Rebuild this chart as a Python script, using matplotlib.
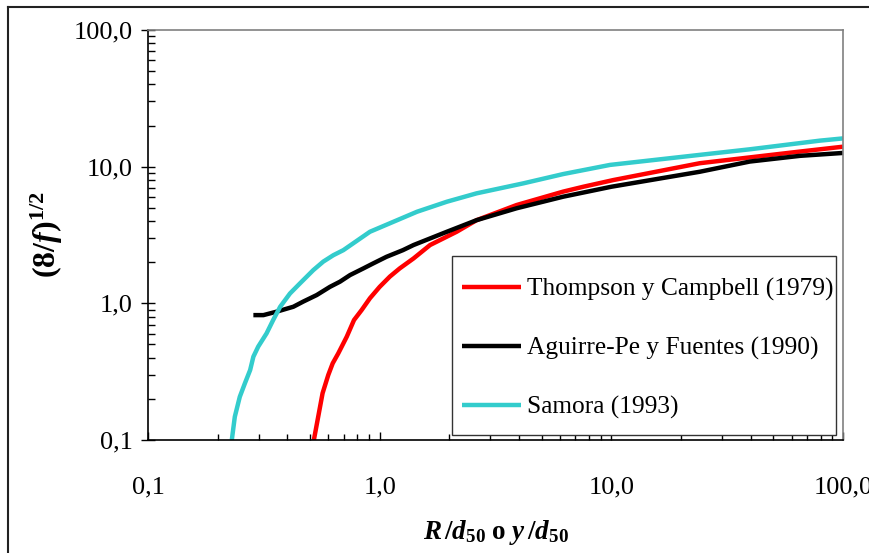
import matplotlib
matplotlib.use("Agg")
import matplotlib.pyplot as plt
from matplotlib.ticker import FixedLocator, FixedFormatter, LogLocator, NullFormatter
from matplotlib.lines import Line2D
from matplotlib.patches import Rectangle

plt.rcParams['font.family'] = ['Liberation Serif', 'DejaVu Serif']
plt.rcParams['mathtext.fontset'] = 'custom'
plt.rcParams['mathtext.rm'] = 'Liberation Serif'
plt.rcParams['mathtext.bf'] = 'Liberation Serif:bold'
plt.rcParams['mathtext.it'] = 'Liberation Serif:italic'
plt.rcParams['mathtext.bfit'] = 'Liberation Serif:bold:italic'

# Data
thompson_x = [0.520, 0.567, 0.600, 0.627, 0.663, 0.721, 0.775, 0.836, 0.908, 1.00, 1.107, 1.22, 1.40,
              1.65, 2.15, 2.62, 3.9, 6.2, 7.57, 10.2, 24.1, 65.2, 100.0]
thompson_y = [0.100, 0.220, 0.299, 0.364, 0.431, 0.570, 0.755, 0.893, 1.09, 1.32, 1.57, 1.80, 2.13,
              2.67, 3.34, 4.06, 5.24, 6.57, 7.13, 7.98, 10.6, 12.9, 14.0]

aguirre_x = [0.285, 0.315, 0.359, 0.424, 0.468, 0.535, 0.610, 0.674, 0.745, 0.850, 0.938, 1.07, 1.26,
             1.40, 1.95, 2.62, 3.9, 6.2, 10.0, 24.1, 39.6, 65.2, 100.0]
aguirre_y = [0.82, 0.82, 0.869, 0.944, 1.03, 1.15, 1.32, 1.44, 1.61, 1.80, 1.96, 2.19, 2.45,
             2.67, 3.34, 4.06, 4.96, 6.03, 7.13, 9.18, 10.9, 12.0, 12.6]

samora_x = [0.230, 0.237, 0.249, 0.262, 0.276, 0.285, 0.299, 0.325, 0.347, 0.372, 0.410, 0.453, 0.517,
            0.571, 0.631, 0.697, 0.908, 1.45, 1.95, 2.62, 4.17, 6.2, 9.87, 24.1, 39.6, 79.4, 100.0]
samora_y = [0.100, 0.148, 0.207, 0.260, 0.325, 0.407, 0.482, 0.603, 0.755, 0.944, 1.18, 1.40, 1.75,
            2.02, 2.25, 2.45, 3.34, 4.68, 5.54, 6.38, 7.55, 8.83, 10.3, 12.2, 13.4, 15.5, 16.1]

labels = ["Thompson y Campbell (1979)", "Aguirre-Pe y Fuentes (1990)", "Samora (1993)"]
colors = ["#FF0000", "#000000", "#33CCCC"]

tick_vals = [0.1, 1.0, 10.0, 100.0]
tick_labels = ["0,1", "1,0", "10,0", "100,0"]

fig = plt.figure(figsize=(8.7, 5.53), dpi=100)
ax = fig.add_axes([148/870, 1-440/553, (843-148)/870, (440-30)/553])

series = [(thompson_x, thompson_y), (aguirre_x, aguirre_y), (samora_x, samora_y)]
for (xs, ys), lab, c in zip(series, labels, colors):
    ax.plot(xs, ys, color=c, lw=3.2, label=lab, solid_capstyle='butt', solid_joinstyle='round')

ax.set_xscale('log')
ax.set_yscale('log')
ax.set_xlim(0.1, 100)
ax.set_ylim(0.1, 100)

for axis in (ax.xaxis, ax.yaxis):
    axis.set_major_locator(FixedLocator(tick_vals))
    axis.set_major_formatter(FixedFormatter(tick_labels))
    axis.set_minor_locator(LogLocator(base=10, subs=range(2, 10)))
    axis.set_minor_formatter(NullFormatter())

ax.tick_params(axis='y', which='major', direction='inout', length=10, width=1.0, labelsize=19, pad=6)
ax.tick_params(axis='y', which='minor', direction='in', length=5, width=1.0)
ax.tick_params(axis='x', which='major', direction='in', length=6, width=1.0, labelsize=19, pad=26)
ax.tick_params(axis='x', which='minor', direction='in', length=4.5, width=1.0)

for s in ('left', 'bottom'):
    ax.spines[s].set_color('black')
    ax.spines[s].set_linewidth(1.2)
for s in ('top', 'right'):
    ax.spines[s].set_color('#808080')
    ax.spines[s].set_linewidth(1.2)

ax.set_ylabel(r'$\mathbf{(8/}\mathbfit{f}\mathbf{)}^{\mathbf{1/2}}$', fontsize=23)
ax.yaxis.set_label_coords(-0.119, 0.5)
ax.set_xlabel(r'$\mathbfit{R}\,\mathbf{/}\mathbfit{d}_{\mathbf{50}}\ \mathbf{o}\ \mathbfit{y}\,\mathbf{/}\mathbfit{d}_{\mathbf{50}}$', fontsize=19.5)
ax.xaxis.set_label_coords(0.5, -0.19)

# legend frame drawn separately (asymmetric padding as in the reference)
ax.add_patch(Rectangle(((452-148)/695, (440-435)/410), (836-452)/695, (435-256)/410,
                       transform=ax.transAxes, facecolor='white', edgecolor='#333333',
                       lw=1.0, zorder=4))
leg = ax.legend(loc='upper left', bbox_to_anchor=((452-148)/695, (440-268)/410),
                fontsize=18.3, frameon=False, borderaxespad=0,
                handlelength=2.3, handletextpad=0.25, labelspacing=1.4, borderpad=0.4)
leg.set_zorder(5)

# figure border (top and left)
fig.add_artist(Line2D([8/870, 8/870], [0, 1-7/553], transform=fig.transFigure, color='#222222', lw=1.5))
fig.add_artist(Line2D([8/870, 1], [1-7/553, 1-7/553], transform=fig.transFigure, color='#222222', lw=1.5))

fig.savefig('out.png', dpi=100)
